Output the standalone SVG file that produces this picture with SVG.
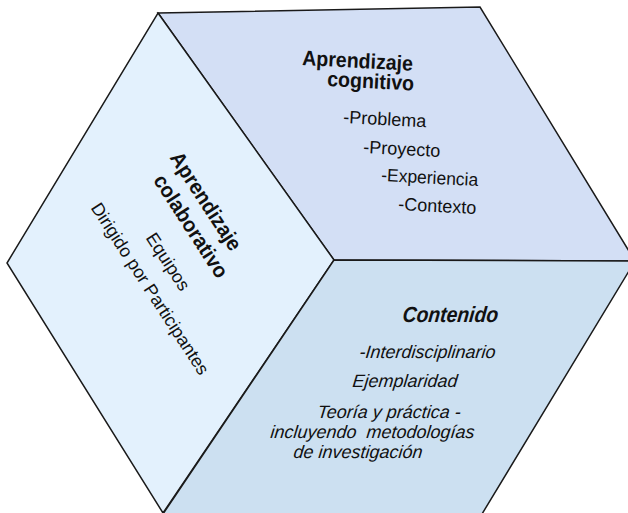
<svg xmlns="http://www.w3.org/2000/svg" width="628" height="513" viewBox="0 0 628 513">
<style>
.face{stroke:#1a1a1a;stroke-width:1.5;stroke-linejoin:miter}
text{font-family:"Liberation Sans",Arial,sans-serif;fill:#111}
.t{font-size:18px}
.b{font-size:21px;font-weight:bold}
.i{font-size:18px;font-style:italic}
.bi{font-size:22px;font-weight:bold;font-style:italic}
</style>
<rect width="628" height="513" fill="#fff"/>
<g id="cara-superior">
<polygon class="face" fill="#d3dff5" points="158,13 480,7 635,261 334,260"/>
<text class="b" transform="translate(302,65) rotate(3) scale(0.93,1)">Aprendizaje</text>
<text class="b" transform="translate(327,86) rotate(3) scale(0.93,1)">cognitivo</text>
<text class="t" transform="translate(343,123) rotate(3)">-Problema</text>
<text class="t" transform="translate(363,153) rotate(3)">-Proyecto</text>
<text class="t" transform="translate(381,181) rotate(3) scale(0.97,1)">-Experiencia</text>
<text class="t" transform="translate(398,210) rotate(3)">-Contexto</text>
</g>
<g id="cara-izquierda">
<polygon class="face" fill="#e3f1fd" points="158,13 334,260 163,513 7,263"/>
<text class="b" text-anchor="middle" transform="translate(200,205) rotate(57) scale(0.95,1)">Aprendizaje</text>
<text class="b" text-anchor="middle" transform="translate(185,230) rotate(57) scale(0.95,1)">colaborativo</text>
<text class="t" text-anchor="middle" transform="translate(163,265) rotate(57)">Equipos</text>
<text class="t" text-anchor="middle" transform="translate(145,292) rotate(57)">Dirigido por Participantes</text>
</g>
<g id="cara-inferior">
<polygon class="face" fill="#cce0f1" points="334,260 635,261 482,514 163,514"/>
<text class="bi" transform="translate(402,322) skewX(-6) scale(0.88,1)">Contenido</text>
<text class="i" transform="translate(359,358) skewX(-6)">-Interdisciplinario</text>
<text class="i" transform="translate(352,387) skewX(-6)">Ejemplaridad</text>
<text class="i" transform="translate(317,418) skewX(-6)">Teoría y práctica -</text>
<text class="i" transform="translate(270,438) skewX(-6)" xml:space="preserve">incluyendo  metodologías</text>
<text class="i" transform="translate(293,458) skewX(-6)">de investigación</text>
</g>
<g id="conectores"></g>
</svg>
